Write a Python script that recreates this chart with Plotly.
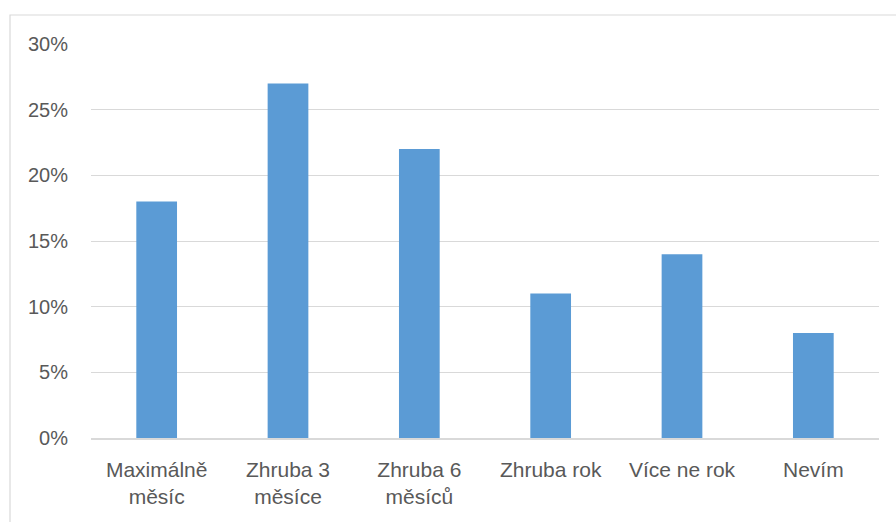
import plotly.graph_objects as go

categories = ["Maximálně<br>měsíc", "Zhruba 3<br>měsíce", "Zhruba 6<br>měsíců", "Zhruba rok", "Více ne rok", "Nevím"]
values = [0.18, 0.27, 0.22, 0.11, 0.14, 0.08]
tick_vals = [0, 0.05, 0.10, 0.15, 0.20, 0.25, 0.30]
tick_text = ["0%", "5%", "10%", "15%", "20%", "25%", "30%"]

W, H = 896, 522
L, R, T, B = 91, 17, 44, 84
pw, ph = W - L - R, H - T - B

fig = go.Figure(go.Bar(x=categories, y=values, marker=dict(color="#5B9BD5", line=dict(width=0)), width=0.31))

def px_x(p):
    return (p - L) / pw

def px_y(p):
    return (H - B - p) / ph

fig.update_layout(
    width=W, height=H,
    margin=dict(l=L, r=R, t=T, b=B),
    paper_bgcolor="white", plot_bgcolor="white",
    font=dict(family="Liberation Sans, Arial, sans-serif", size=21, color="#595959"),
    showlegend=False,
    xaxis=dict(showgrid=False, showline=True, linecolor="#D9D9D9", linewidth=1.5, ticks="", tickfont=dict(size=21), ticklabelstandoff=12),
    yaxis=dict(range=[0, 0.30], tickvals=tick_vals, ticktext=tick_text, showgrid=True, gridcolor="#D9D9D9", gridwidth=1.4,
               zeroline=False, showline=False, ticks="", tickfont=dict(size=20), ticklabelstandoff=22),
    shapes=[dict(type="rect", xref="paper", yref="paper", x0=px_x(10), x1=px_x(905), y0=px_y(530), y1=px_y(15),
                 line=dict(color="#D9D9D9", width=1.2), fillcolor="rgba(0,0,0,0)", layer="below")],
)

fig.write_html("out.html", config={"displayModeBar": False},
               post_script="document.body.style.margin='0';document.body.style.padding='0';")
